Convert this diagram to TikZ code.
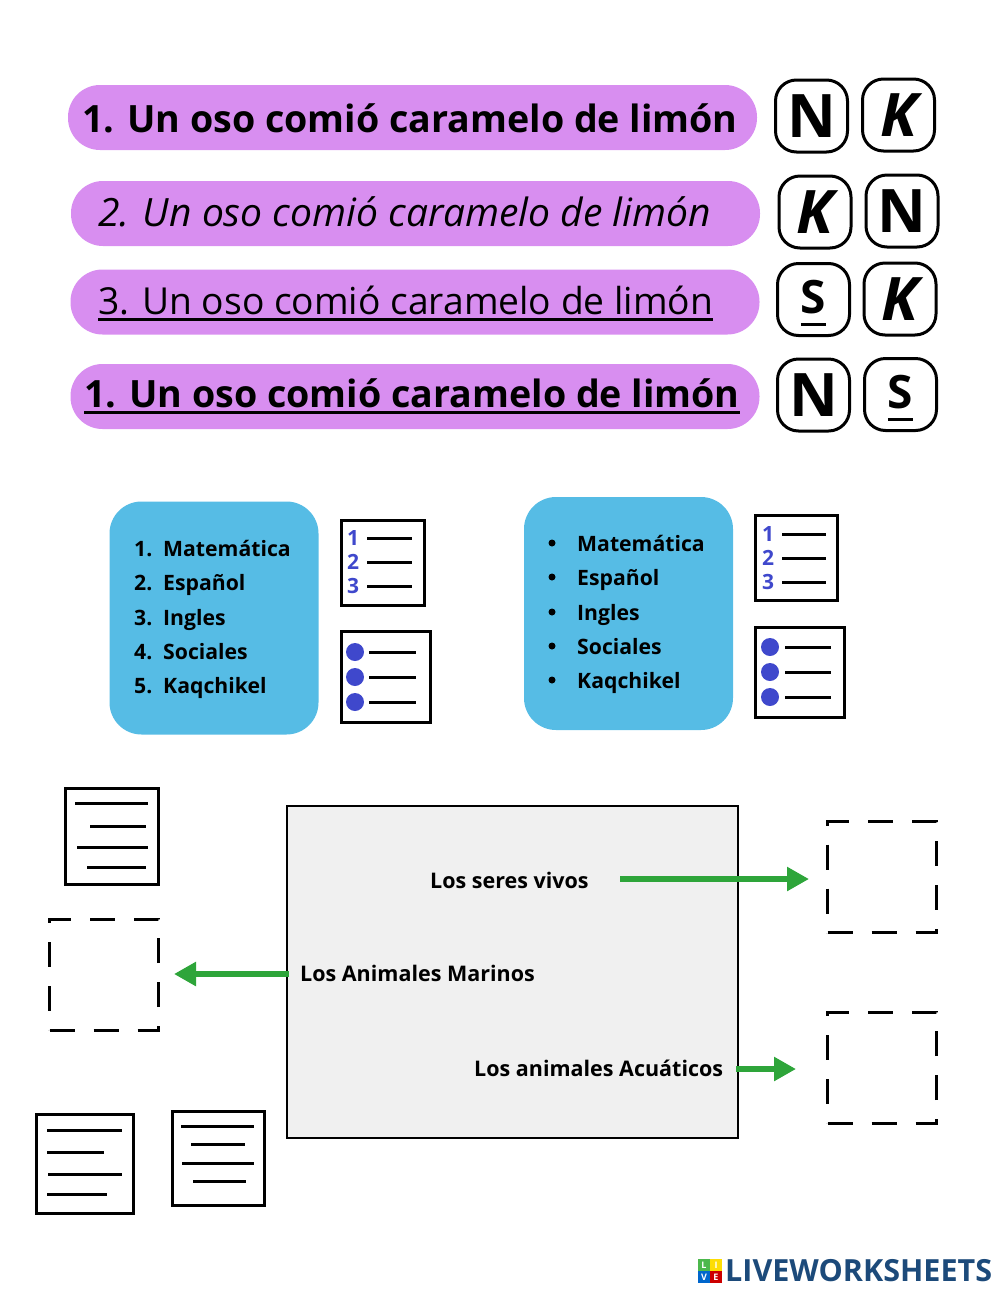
\documentclass[tikz,border=0pt]{standalone}
\usepackage{fontspec}
\setmainfont{Open Sans}
\newcommand{\sizefont}[1]{\fontsize{#1}{#1}\selectfont}
\newcommand{\lowbar}[2]{\vtop{\hbox{#2}\kern#1\hrule height 3.2pt}}
\definecolor{pillcol}{HTML}{D88EF0}
\definecolor{bluecol}{HTML}{56BCE5}
\definecolor{dotcol}{HTML}{3F48CC}
\definecolor{greencol}{HTML}{2EA53A}
\definecolor{logocol}{HTML}{1C4A7A}
\tikzset{
	pill/.style={fill=pillcol, rounded corners=32pt, minimum width=689pt, minimum height=65pt},
	badge/.style={draw, line width=3pt, rounded corners=21pt, minimum width=72pt, minimum height=72pt, inner sep=0pt},
	panel/.style={fill=bluecol, rounded corners=32pt, minimum width=209pt, minimum height=233pt},
	icon/.style={draw, line width=3pt, inner sep=0pt},
	hole/.style={draw, line width=3pt, dash pattern=on 25pt off 19pt, minimum width=109pt, minimum height=111pt},
	rule/.style={line width=3pt},
	link/.style={draw=greencol, line width=6pt, -{Triangle[length=22pt,width=23pt]}},
	sentence/.style={anchor=base west, inner sep=0pt},
	item/.style={anchor=base west, inner sep=0pt, font=\sizefont{21.2}\bfseries},
	label/.style={anchor=base west, inner sep=0pt, font=\sizefont{21.5}\bfseries},
	digit/.style={text=dotcol, inner sep=0pt, font=\sizefont{21}\bfseries},
	square/.style={minimum size=11.5pt, inner sep=0pt, text=white, font=\sizefont{9}\bfseries}
}
\usetikzlibrary{arrows.meta}
\begin{document}
\begin{tikzpicture}[x=1pt, y=-1pt]
	\useasboundingbox (0,0) rectangle (1000,1291);
	% sentences
	\node (Pa) at (412.5,117.5) [pill] {};
	\node (Pb) at (415.5,213.5) [pill] {};
	\node (Pc) at (415,302) [pill] {};
	\node (Pd) at (415,396.5) [pill] {};
	\node (Ta) at (82,132) [sentence, font=\sizefont{37.6}\bfseries] {1. Un oso comió caramelo de limón};
	\node (Tb) at (98,226) [sentence, font=\sizefont{39}\itshape] {2. Un oso comió caramelo de limón};
	\node (Tc) at (98,314) [sentence, font=\sizefont{37.2}] {\lowbar{3pt}{3. Un oso comió caramelo de limón}};
	\node (Td) at (84,407) [sentence, font=\sizefont{37.6}\bfseries] {\lowbar{3pt}{1. Un oso comió caramelo de limón}};
	% answer keys
	\node (Na) at (811.5,116) [badge, font=\sizefont{60}\bfseries] {N};
	\node (Ka) at (898.5,115) [badge, font=\sizefont{60}\bfseries\itshape] {K};
	\node (Kb) at (815,212) [badge, font=\sizefont{60}\bfseries\itshape] {K};
	\node (Nb) at (902,211) [badge, font=\sizefont{60}\bfseries] {N};
	\node (Sc) at (813.5,299.5) [badge, font=\sizefont{46}\bfseries] {\lowbar{9pt}{\rule{0pt}{40pt}S}};
	\node (Kc) at (900,299) [badge, font=\sizefont{60}\bfseries\itshape] {K};
	\node (Nd) at (813.5,395) [badge, font=\sizefont{60}\bfseries] {N};
	\node (Sd) at (900.5,394.5) [badge, font=\sizefont{46}\bfseries] {\lowbar{9pt}{\rule{0pt}{40pt}S}};
	% lists
	\node (La) at (214,618) [panel] {};
	\node (Lb) at (628.5,613.5) [panel] {};
	\foreach \n/\t/\y in {1/Matemática/556, 2/Español/590, 3/Ingles/625, 4/Sociales/659, 5/Kaqchikel/693} {
		\node (Ln\n) at (134,\y) [item] {\n.};
		\node (Tn\n) at (163,\y) [item] {\t};
	}
	\foreach \n/\t/\y in {1/Matemática/551, 2/Español/585, 3/Ingles/620, 4/Sociales/654, 5/Kaqchikel/688} {
		\fill (552,\y-8) circle (3.5pt);
		\node (Tp\n) at (577,\y) [item] {\t};
	}
	% number and bullet icons
	\node (Ia) at (382.5,562.5) [icon, minimum width=83pt, minimum height=85pt] {};
	\node (Ib) at (385.5,676.5) [icon, minimum width=89pt, minimum height=91pt] {};
	\node (Ic) at (796,557.5) [icon, minimum width=82pt, minimum height=85pt] {};
	\node (Id) at (799.5,672) [icon, minimum width=89pt, minimum height=90pt] {};
	\foreach \n/\y in {1/538, 2/562, 3/586} {
		\node (Na\n) at (353,\y) [digit] {\n};
		\draw[rule] (367,\y) -- (412,\y);
	}
	\foreach \n/\y in {1/534, 2/558, 3/582} {
		\node (Nc\n) at (768,\y) [digit] {\n};
		\draw[rule] (782,\y) -- (826,\y);
	}
	\foreach \y in {652,677,702} {
		\fill[dotcol] (355,\y) circle (9pt);
		\draw[rule] (369,\y) -- (416,\y);
	}
	\foreach \y in {647,672,697} {
		\fill[dotcol] (770,\y) circle (9pt);
		\draw[rule] (785,\y) -- (831,\y);
	}
	% main frame
	\node (Fr) at (512.5,972) [draw, line width=2pt, fill=black!6, minimum width=451pt, minimum height=332pt] {};
	\node (Se) at (430,888) [label] {Los seres vivos};
	\node (An) at (300,981) [label] {Los Animales Marinos};
	\node (Ac) at (474,1076) [label] {Los animales Acuáticos};
	\node (Ha) at (104,974.5) [hole] {};
	\node (Hb) at (882,877) [hole] {};
	\node (Hc) at (882,1067.5) [hole] {};
	\coordinate (Sa) at (620,879);
	\coordinate (Aa) at (289,974);
	\coordinate (Ab) at (736,1069);
	\draw[link, shorten >=17pt] (Sa) -- (Sa -| Hb.west);
	\draw[link, shorten >=14pt] (Aa) -- (Aa -| Ha.east);
	\draw[link, shorten >=30pt] (Ab) -- (Ab -| Hc.west);
	% text icons
	\node (Ja) at (111.5,836) [icon, minimum width=93pt, minimum height=96pt] {};
	\node (Jb) at (84.5,1163.5) [icon, minimum width=97pt, minimum height=99pt] {};
	\node (Jc) at (218,1158) [icon, minimum width=92pt, minimum height=94pt] {};
	\foreach \a/\b/\y in {75/148/803, 90/146/826, 77/148/847, 87/146/867,
		47/122/1130, 47/104/1152, 48/122/1174, 47/107/1194,
		181/254/1126, 191/245/1144, 182/254/1163, 193/246/1181} {
		\draw[rule] (\a,\y) -- (\b,\y);
	}
	% logo
	\node (Qa) at (704,1265) [square, fill=green!60!black!70] {L};
	\node (Qb) at (716,1265) [square, fill=yellow!80!orange] {I};
	\node (Qc) at (704,1277) [square, fill=blue!50!cyan!80!black] {V};
	\node (Qd) at (716,1277) [square, fill=red!80!black] {E};
	\node (Lo) at (725,1270.5) [anchor=west, inner sep=0pt, text=logocol, font=\sizefont{30.5}\bfseries] {LIVEWORKSHEETS};
\end{tikzpicture}
\end{document}
